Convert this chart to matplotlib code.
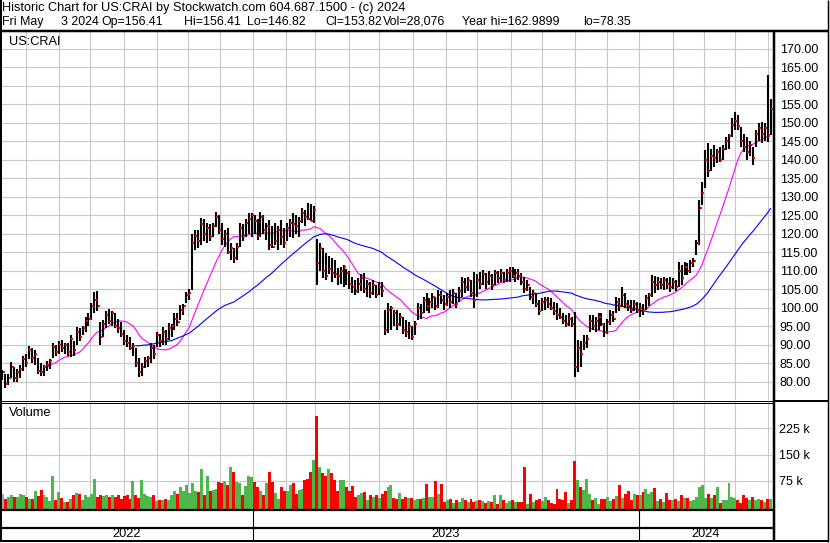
import numpy as np
import pandas as pd
import matplotlib
matplotlib.use("Agg")
import matplotlib.pyplot as plt

plt.rcParams["font.family"] = ["Liberation Sans", "DejaVu Sans"]

# business days shown on the chart; one bar per two business days
dates = pd.bdate_range("2022-05-09", "2024-05-03")

highs = [
    83.2, 82.0, 82.0, 85.4, 84.0, 83.5, 84.5, 87.0, 87.5, 89.6,
    89.0, 88.5, 86.5, 85.0, 84.5, 85.5, 86.0, 90.5, 90.0, 91.0,
    91.3, 90.5, 90.5, 92.6, 91.0, 94.8, 94.5, 95.0, 97.5, 98.5,
    101.3, 104.2, 104.5, 96.0, 96.7, 99.0, 99.6, 99.0, 98.6, 97.0,
    96.0, 94.0, 92.5, 92.0, 90.5, 89.0, 86.4, 85.0, 86.7, 87.0,
    90.4, 90.0, 93.4, 93.0, 94.8, 94.0, 95.8, 95.5, 98.5, 98.5,
    100.7, 101.0, 104.2, 105.0, 120.0, 121.0, 121.0, 124.2, 124.0, 122.9,
    122.5, 123.0, 125.9, 125.0, 122.9, 121.0, 121.5, 117.5, 116.0, 117.5,
    122.8, 122.5, 124.0, 125.6, 125.5, 125.0, 124.0, 125.8, 125.0, 123.0,
    123.7, 122.0, 123.0, 122.0, 123.7, 121.5, 123.0, 124.0, 125.6, 125.0,
    124.5, 127.0, 126.5, 128.3, 128.0, 127.5, 118.5, 117.5, 116.0, 114.8,
    114.0, 113.4, 113.0, 110.7, 111.0, 111.5, 110.5, 110.0, 108.3, 107.5,
    108.0, 109.0, 109.4, 107.5, 107.0, 107.5, 106.0, 107.0, 107.0, 99.4,
    101.3, 100.5, 99.5, 99.4, 98.5, 97.5, 96.7, 96.0, 95.0, 96.5,
    101.3, 101.0, 103.0, 104.0, 102.5, 104.0, 103.0, 104.8, 104.5, 103.5,
    104.0, 104.8, 105.0, 104.0, 105.5, 108.3, 108.0, 108.3, 107.5, 109.6,
    109.0, 109.6, 110.2, 109.5, 110.0, 109.0, 110.2, 110.0, 110.5, 109.6,
    110.5, 111.0, 111.0, 110.5, 110.5, 109.5, 108.3, 107.5, 105.5, 104.8,
    104.0, 102.0, 102.5, 102.9, 103.0, 102.5, 101.5, 101.2, 100.0, 98.5,
    98.0, 98.5, 97.5, 98.8, 91.3, 91.0, 92.6, 92.5, 98.0, 98.0,
    97.5, 98.5, 98.5, 95.8, 97.0, 99.4, 99.0, 102.9, 102.5, 105.6,
    104.0, 102.0, 102.0, 102.0, 101.5, 101.2, 101.0, 103.4, 104.0, 108.8,
    108.5, 108.3, 108.0, 108.3, 108.0, 108.3, 108.0, 107.5, 112.3, 111.5,
    112.3, 112.0, 113.0, 113.4, 118.3, 129.0, 134.0, 142.6, 144.5, 143.0,
    144.0, 143.0, 143.5, 144.0, 146.0, 147.0, 151.2, 152.9, 152.0, 148.8,
    147.0, 146.2, 145.0, 143.5, 148.0, 149.9, 150.2, 150.0, 163.0, 156.4,
]

lows = [
    80.5, 78.4, 79.0, 81.0, 80.0, 80.0, 81.0, 83.0, 84.0, 86.0,
    85.0, 84.5, 82.0, 81.5, 81.6, 83.0, 83.5, 86.5, 87.0, 87.5,
    88.0, 87.5, 87.0, 86.7, 87.0, 90.0, 91.0, 92.5, 93.4, 95.0,
    96.7, 98.6, 99.0, 90.0, 92.0, 94.5, 95.5, 95.0, 94.5, 93.2,
    92.0, 90.0, 89.4, 88.5, 87.0, 84.0, 81.3, 81.6, 83.7, 84.0,
    85.0, 86.0, 89.4, 89.5, 89.9, 90.0, 91.3, 92.0, 94.0, 95.0,
    96.7, 98.0, 101.3, 102.0, 104.8, 115.6, 116.0, 117.0, 118.0, 117.5,
    118.0, 119.0, 121.8, 120.0, 117.0, 116.4, 114.5, 113.0, 112.0, 113.0,
    116.4, 118.0, 119.0, 120.0, 119.0, 120.0, 118.3, 119.0, 120.0, 118.3,
    115.6, 116.0, 117.0, 115.6, 117.0, 116.0, 118.0, 119.0, 118.8, 120.0,
    119.0, 123.0, 122.0, 123.7, 123.5, 123.0, 106.1, 110.0, 108.0, 107.5,
    109.0, 107.0, 108.0, 106.0, 106.5, 105.6, 106.0, 105.0, 104.0, 103.4,
    104.0, 104.5, 104.0, 103.0, 102.6, 103.5, 102.6, 103.4, 103.0, 92.6,
    93.2, 94.0, 95.0, 94.0, 95.0, 93.0, 92.0, 91.5, 91.3, 92.5,
    96.7, 97.0, 98.5, 99.0, 98.5, 100.0, 99.4, 100.0, 101.0, 99.4,
    100.5, 100.0, 101.0, 100.0, 101.5, 102.9, 104.0, 104.5, 103.0, 99.9,
    103.0, 105.0, 106.0, 105.0, 106.0, 104.8, 106.0, 106.7, 107.0, 106.7,
    107.0, 107.0, 108.0, 107.0, 107.5, 106.0, 104.0, 104.5, 102.0, 101.0,
    100.2, 98.0, 99.0, 99.5, 100.0, 99.4, 98.0, 96.7, 97.0, 95.5,
    94.8, 95.0, 94.8, 81.3, 82.5, 84.0, 88.6, 89.0, 93.4, 94.0,
    93.5, 94.0, 95.0, 92.0, 93.0, 95.3, 96.0, 98.6, 99.0, 100.2,
    100.0, 99.0, 98.6, 99.0, 98.6, 97.5, 98.0, 99.4, 100.5, 102.9,
    104.0, 104.8, 105.0, 104.8, 105.0, 104.2, 105.0, 104.5, 105.6, 106.0,
    108.8, 108.8, 109.5, 111.0, 114.2, 117.0, 127.8, 132.4, 135.3, 137.0,
    138.0, 139.0, 139.5, 140.0, 142.6, 143.0, 146.1, 148.0, 148.0, 143.4,
    142.0, 140.0, 141.0, 138.6, 143.4, 145.0, 144.5, 145.0, 144.8, 146.8,
]

closes = [
    82.7, 79.5, 81.0, 84.0, 81.0, 82.5, 83.5, 86.0, 85.0, 88.5,
    86.5, 87.5, 83.0, 82.5, 84.0, 84.5, 85.5, 89.5, 88.0, 90.0,
    89.0, 90.0, 88.0, 91.5, 88.5, 93.5, 92.0, 94.5, 96.5, 97.0,
    100.5, 102.0, 100.5, 92.0, 95.5, 98.0, 96.5, 98.5, 95.0, 94.5,
    93.0, 91.0, 90.5, 89.0, 89.6, 85.0, 82.5, 84.0, 85.5, 86.5,
    89.0, 87.5, 92.5, 91.0, 93.5, 91.5, 94.5, 95.0, 97.0, 96.0,
    99.5, 100.5, 103.5, 104.0, 117.5, 119.5, 118.0, 122.5, 120.0, 121.5,
    119.0, 122.0, 124.5, 121.0, 118.5, 120.0, 115.0, 116.0, 113.5, 116.5,
    121.5, 119.5, 123.0, 124.0, 125.0, 123.5, 119.5, 124.5, 121.0, 122.0,
    117.0, 116.5, 118.0, 121.0, 119.0, 117.5, 121.5, 123.0, 122.5, 122.0,
    123.5, 125.5, 124.5, 124.0, 123.5, 126.5, 112.0, 116.0, 110.0, 108.5,
    110.5, 109.5, 109.0, 108.5, 110.0, 111.0, 109.5, 106.5, 105.5, 104.5,
    106.5, 108.0, 105.0, 106.5, 104.0, 106.0, 103.5, 105.5, 104.5, 94.0,
    99.5, 100.0, 98.5, 95.5, 97.5, 94.0, 93.5, 95.0, 92.0, 95.5,
    100.0, 98.5, 102.0, 100.5, 101.5, 103.0, 100.5, 103.5, 102.0, 101.0,
    103.0, 101.5, 104.0, 101.0, 104.5, 107.0, 105.5, 107.5, 104.0, 102.0,
    107.5, 106.5, 109.0, 107.0, 108.5, 106.0, 109.5, 108.0, 109.5, 107.5,
    109.5, 110.0, 108.5, 109.5, 108.5, 107.0, 105.0, 106.0, 103.0, 104.0,
    101.0, 99.0, 101.5, 102.0, 101.0, 100.0, 99.0, 98.0, 97.5, 96.5,
    95.5, 97.0, 95.5, 84.0, 89.0, 87.5, 90.5, 91.5, 96.5, 95.0,
    96.5, 97.5, 95.5, 93.5, 96.0, 98.0, 97.0, 101.5, 100.5, 103.5,
    101.0, 100.5, 99.5, 101.0, 99.5, 100.0, 99.0, 102.5, 103.5, 107.0,
    106.0, 107.0, 106.0, 107.5, 106.5, 105.5, 107.0, 105.5, 110.0, 108.0,
    111.0, 110.0, 112.0, 112.5, 117.5, 127.0, 131.0, 140.0, 137.0, 141.0,
    140.5, 142.0, 140.0, 143.0, 145.0, 146.5, 149.5, 150.5, 149.0, 145.0,
    143.5, 142.0, 144.0, 140.5, 147.0, 148.5, 147.0, 148.5, 146.5, 153.8,
]

# volume in thousands of shares
volume_k = [
    37, 24, 30, 35, 28, 29, 37, 35, 28, 24,
    22, 47, 31, 50, 33, 28, 17, 90, 19, 44,
    25, 13, 15, 24, 33, 39, 37, 19, 33, 28,
    37, 79, 29, 33, 31, 33, 28, 35, 28, 33,
    24, 31, 33, 24, 74, 33, 26, 77, 38, 31,
    28, 33, 17, 19, 21, 23, 21, 33, 47, 36,
    57, 47, 64, 40, 68, 47, 44, 109, 33, 90,
    47, 50, 53, 72, 68, 74, 63, 115, 100, 72,
    68, 33, 60, 90, 85, 72, 58, 45, 33, 68,
    100, 72, 39, 24, 58, 47, 47, 63, 68, 38,
    49, 52, 76, 81, 100, 136, 260, 115, 98, 90,
    110, 98, 77, 47, 78, 77, 58, 46, 59, 28,
    34, 40, 43, 20, 34, 28, 34, 25, 38, 45,
    58, 63, 25, 22, 39, 22, 29, 27, 27, 20,
    23, 22, 27, 67, 29, 29, 74, 38, 67, 14,
    20, 24, 11, 20, 15, 27, 20, 15, 22, 15,
    18, 20, 18, 11, 17, 15, 35, 10, 34, 20,
    11, 17, 20, 15, 13, 14, 116, 10, 37, 15,
    20, 23, 16, 30, 20, 11, 9, 53, 23, 20,
    43, 12, 20, 132, 78, 58, 50, 81, 38, 20,
    25, 9, 23, 23, 28, 18, 22, 31, 63, 26,
    37, 47, 20, 38, 35, 33, 43, 51, 37, 43,
    54, 17, 22, 15, 40, 20, 20, 23, 17, 35,
    26, 27, 17, 20, 29, 58, 63, 25, 37, 25,
    35, 58, 11, 20, 20, 70, 29, 25, 20, 11,
    34, 25, 20, 29, 20, 22, 20, 15, 24, 24,
]

price_ticks = list(range(80, 171, 5))
volume_ticks = [75, 150, 225]
title_line = "Historic Chart for US:CRAI by Stockwatch.com 604.687.1500 - (c) 2024"
info_parts = ["Fri May", "3 2024", "Op=156.41", "Hi=156.41", "Lo=146.82",
              "Cl=153.82", "Vol=28,076", "Year hi=162.9899", "lo=78.35"]
info_x = [2, 60.7, 101.7, 184.3, 246.7, 325, 383.3, 461.7, 582.7]

W, H = 830, 543
FS = 9.0
FS_HEAD = 9.2
FS_INFO = 8.9
GRID = "#C8C8C8"


def rect(x0, y0, x1, y1):
    return [x0 / W, 1 - y1 / H, (x1 - x0) / W, (y1 - y0) / H]


fig = plt.figure(figsize=(W / 100, H / 100), dpi=100)
fig.patch.set_facecolor("white")

x = np.arange(len(closes)) * 2 + 0.5
xlim = (-0.5, len(dates) - 0.5)

month = dates.month.values
month_lines = np.flatnonzero(month[1:] != month[:-1]) + 1 - 0.5
year = dates.year.values
year_lines = np.flatnonzero(year[1:] != year[:-1]) + 1 - 0.5
year_bounds = np.r_[xlim[0], year_lines, xlim[1]]

ma_fast = pd.Series(closes).rolling(15).mean()
ma_slow = pd.Series(closes).rolling(46).mean()

prev = np.r_[closes[0], closes[:-1]]
vcolors = np.where(np.array(closes) > prev, "#4CB84C",
                   np.where(np.array(closes) < prev, "#FF0000", "#A8A8A8"))

# price panel
ax_p = fig.add_axes(rect(1, 31, 772, 400))
ax_p.set_xlim(*xlim)
ax_p.set_ylim(75.05, 174.78)
ax_p.vlines(x, lows, highs, color="black", linewidth=1.5, zorder=3)
ax_p.plot(x + 0.8, closes, linestyle="none", marker="s", markersize=1.5,
          markeredgewidth=0, color="red", zorder=4)
ax_p.plot(x, ma_fast, color="#FF00FF", linewidth=0.8, zorder=2)
ax_p.plot(x, ma_slow, color="#0000FF", linewidth=0.8, zorder=2)
ax_p.set_yticks(price_ticks)
ax_p.set_yticklabels([f"{p:.2f}" for p in price_ticks])
ax_p.yaxis.tick_right()
ax_p.set_xticks(month_lines)
ax_p.tick_params(axis="y", length=0, pad=5.6, labelsize=FS)
ax_p.tick_params(axis="x", length=0, labelbottom=False)
ax_p.grid(True, color=GRID, linewidth=0.8)
ax_p.set_axisbelow(True)
for s in ax_p.spines.values():
    s.set_visible(False)

# volume panel
vb = -5.7
ax_v = fig.add_axes(rect(1, 402, 772, 509))
ax_v.set_xlim(*xlim)
ax_v.set_ylim(vb, 300.9)
ax_v.bar(x, np.array(volume_k) - vb, bottom=vb, width=2.0, color=vcolors,
         linewidth=0, zorder=3)
ax_v.set_yticks(volume_ticks)
ax_v.set_yticklabels([f"{v} k" for v in volume_ticks])
ax_v.yaxis.tick_right()
ax_v.set_xticks(month_lines)
ax_v.tick_params(axis="y", length=0, pad=5.0, labelsize=FS)
ax_v.tick_params(axis="x", length=0, labelbottom=False)
ax_v.grid(True, color=GRID, linewidth=0.8)
ax_v.set_axisbelow(True)
for s in ax_v.spines.values():
    s.set_visible(False)

# date strip
ax_d = fig.add_axes(rect(1, 509, 772, 541))
ax_d.set_xlim(*xlim)
ax_d.set_ylim(0, 1)
ax_d.axis("off")
for xl in year_lines:
    ax_d.axvline(xl, color="black", linewidth=0.8)
for i, label in enumerate(["2022", "2023", "2024"]):
    mid = (year_bounds[i] + year_bounds[i + 1]) / 2
    ax_d.text(mid, 0.22, label, ha="center", va="center", fontsize=FS_HEAD)

# frame, header and labels drawn in pixel coordinates
ov = fig.add_axes([0, 0, 1, 1], zorder=10)
ov.set_xlim(0, W)
ov.set_ylim(H, 0)
ov.axis("off")


def seg(x0, y0, x1, y1, px):
    ov.plot([x0, x1], [y0, y1], color="black", linewidth=px / 1.389,
            solid_capstyle="butt")


seg(1, 0, 1, 542, 2)
seg(827.5, 0, 827.5, 542, 1.5)
seg(0, 30.5, 828, 30.5, 2.5)
seg(773.8, 30, 773.8, 542, 2.5)
seg(0, 400.5, 773, 400.5, 1)
seg(0, 402.5, 773, 402.5, 1)
seg(773, 401, 828, 401, 2)
seg(0, 510.2, 773, 510.2, 2.2)
seg(0, 527.8, 773, 527.8, 2.2)
seg(0, 541.2, 828, 541.2, 2)

ov.text(2, 8.5, title_line, ha="left", va="center", fontsize=FS_HEAD)
for t, xp in zip(info_parts, info_x):
    ov.text(xp, 21.7, t, ha="left", va="center", fontsize=FS_INFO)
ov.text(9, 41.7, "US:CRAI", ha="left", va="center", fontsize=FS_HEAD)
ov.text(9, 413, "Volume", ha="left", va="center", fontsize=FS_HEAD)

fig.savefig("out.png", dpi=100)
